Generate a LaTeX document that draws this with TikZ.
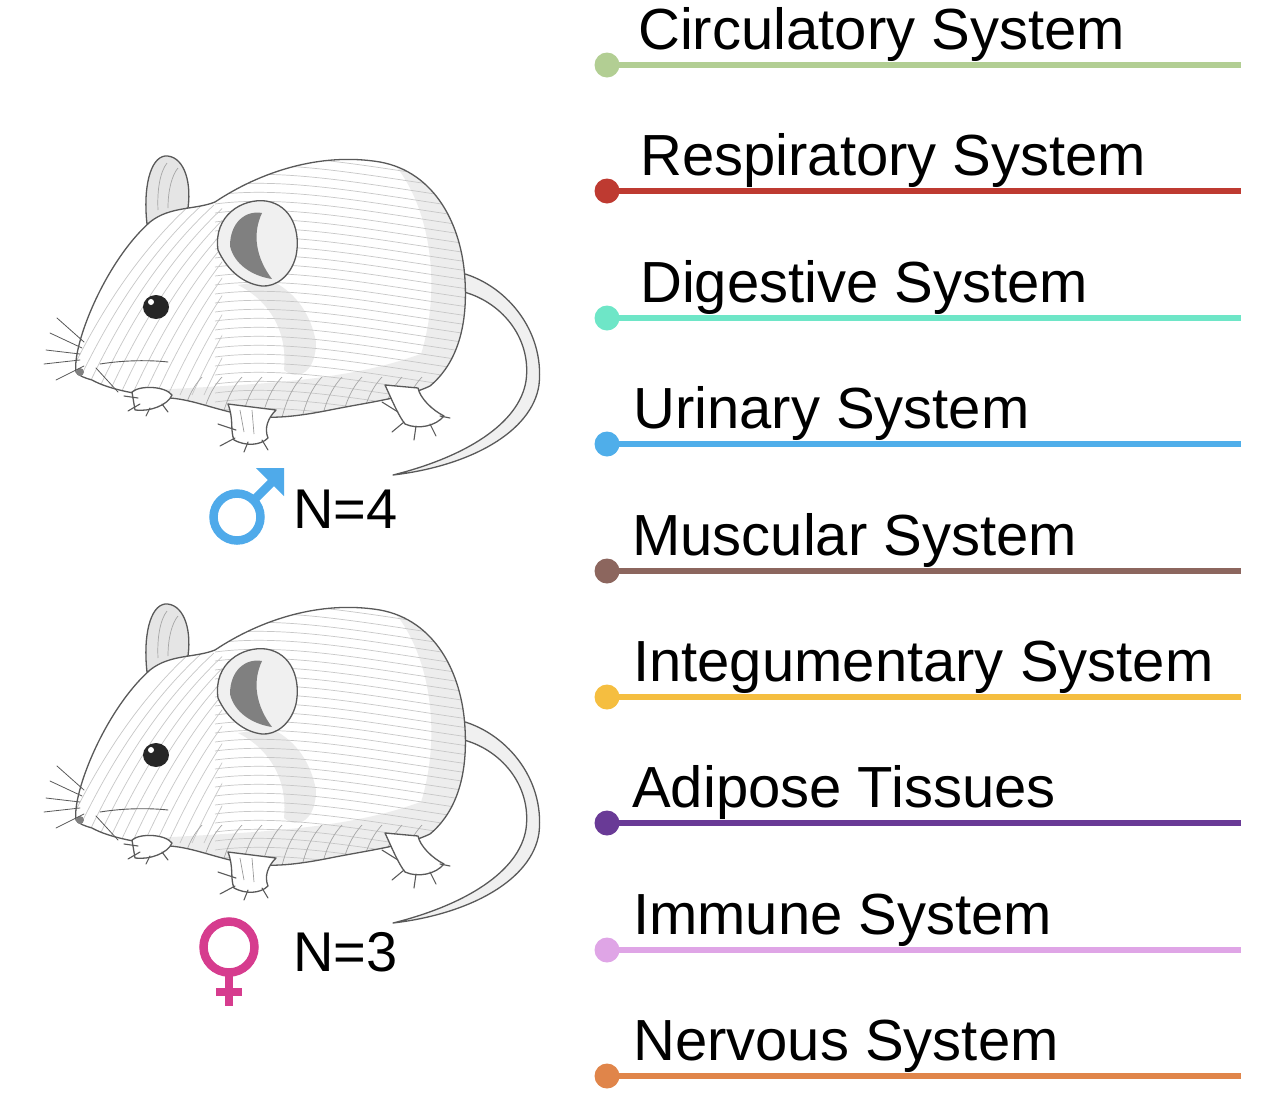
\documentclass[tikz,border=0pt]{standalone}
\usepackage{fontspec}
\setmainfont{Liberation Sans}
\definecolor{cA}{HTML}{B2CE93}
\definecolor{cB}{HTML}{BE3A31}
\definecolor{cC}{HTML}{6EE6C7}
\definecolor{cD}{HTML}{4FAEEA}
\definecolor{cE}{HTML}{8C665E}
\definecolor{cF}{HTML}{F5BE40}
\definecolor{cG}{HTML}{693A96}
\definecolor{cH}{HTML}{DFA5E6}
\definecolor{cI}{HTML}{E0854A}
\definecolor{maleblue}{HTML}{4FAAEA}
\definecolor{femalepink}{HTML}{D63C8E}
\newcommand\mousebodypath{(76,372) .. controls (72,345) and (105,262) .. (150,222)
  .. controls (170,206) and (195,210) .. (215,202)
  .. controls (260,172) and (320,152) .. (380,162)
  .. controls (435,172) and (462,225) .. (465,280)
  .. controls (468,330) and (455,365) .. (430,386)
  .. controls (405,398) and (370,402) .. (330,410)
  .. controls (300,416) and (270,420) .. (245,415)
  .. controls (215,410) and (195,400) .. (170,398)
  .. controls (140,395) and (110,390) .. (92,380)
  .. controls (85,378) and (79,376) .. (76,372) -- cycle}
\tikzset{
  pencil/.style={draw=black!65, line width=1.3bp, line cap=round, line join=round},
  hatch/.style={draw=black!22, line width=0.7bp},
  toe/.style={draw=black!65, line width=1.1bp, line cap=round},
  dot/.style={circle, inner sep=0pt, minimum size=25bp},
  label/.style={anchor=base west, inner sep=0pt, font=\fontsize{58bp}{60bp}\selectfont},
  nlabel/.style={anchor=base west, inner sep=0pt, font=\fontsize{56bp}{58bp}\selectfont},
  mouse/.pic={
    % tail
    \fill[black!6, pencil] (458,272) .. controls (505,283) and (545,330) .. (539,385)
      .. controls (532,432) and (470,466) .. (393,475)
      .. controls (465,457) and (519,424) .. (526,381)
      .. controls (532,337) and (500,300) .. (460,291) -- cycle;
    % far ear
    \fill[black!10, pencil] (147,224) .. controls (143,188) and (150,158) .. (165,156)
      .. controls (182,155) and (192,178) .. (188,208) -- cycle;
    \draw[hatch, draw=black!35] (158,210) .. controls (157,190) and (160,172) .. (167,163);
    \draw[hatch, draw=black!35] (168,208) .. controls (168,190) and (172,175) .. (178,168);
    % body
    \fill[white] \mousebodypath;
    \begin{scope}
      \clip \mousebodypath;
      % soft shadows
      \fill[black!7] (60,400) .. controls (200,378) and (360,398) .. (470,330) -- (490,440) -- (60,440) -- cycle;
      \fill[black!7] (395,165) .. controls (440,220) and (445,330) .. (400,400) -- (490,400) -- (490,165) -- cycle;
      \fill[black!8] (238,285) .. controls (268,300) and (288,330) .. (284,370)
        .. controls (298,382) and (316,372) .. (316,342)
        .. controls (310,310) and (292,290) .. (270,280) -- cycle;
      % fur strokes on body
      \foreach \i in {0,...,30}{
        \draw[hatch] (215,{150+\i*9}) .. controls (290,{140+\i*9}) and (380,{160+\i*9}) .. (490,{175+\i*9});
      }
      % fur strokes on head
      \begin{scope}
        \clip (40,180) rectangle (222,420);
        \foreach \i in {0,...,12}{
          \draw[hatch] ({60+\i*12},{395}) .. controls ({90+\i*12},{330}) and ({130+\i*12},{260}) .. ({190+\i*12},{205});
        }
      \end{scope}
      % belly strokes
      \foreach \i in {0,...,12}{
        \draw[hatch, draw=black!35] ({180+\i*20},425) .. controls ({185+\i*20},405) and ({190+\i*20},390) .. ({202+\i*20},377);
      }
    \end{scope}
    \draw[pencil] \mousebodypath;
    % near ear
    \fill[black!6, pencil] (218,250) .. controls (213,215) and (243,198) .. (266,201)
      .. controls (292,205) and (301,232) .. (296,256)
      .. controls (291,276) and (276,287) .. (262,286)
      .. controls (245,284) and (228,272) .. (218,250) -- cycle;
    \fill[black!50] (230,246) .. controls (230,222) and (246,210) .. (262,213)
      .. controls (252,234) and (256,258) .. (272,279)
      .. controls (252,276) and (234,264) .. (230,246) -- cycle;
    % eye
    \fill[black!85] (156,307) ellipse (13 and 12);
    \fill[white] (151,302) circle (3);
    % nose and mouth
    \fill[black!50] (80,372) circle (4);
    \draw[pencil, line width=0.9bp] (100,364) .. controls (125,360) and (150,360) .. (168,362);
    % whiskers
    \draw[toe, line width=0.8bp] (84,342) -- (57,318);
    \draw[toe, line width=0.8bp] (82,348) -- (50,333);
    \draw[toe, line width=0.8bp] (80,354) -- (46,350);
    \draw[toe, line width=0.8bp] (80,360) -- (44,364);
    \draw[toe, line width=0.8bp] (84,366) -- (56,380);
    \draw[toe, line width=0.8bp] (96,368) -- (118,392);
    % far front paw
    \fill[white, pencil] (132,392) .. controls (140,385) and (165,386) .. (172,395)
      .. controls (168,405) and (150,412) .. (135,410) -- cycle;
    \draw[toe] (138,398) -- (124,396);
    \draw[toe] (140,404) -- (128,411);
    \draw[toe] (150,408) -- (146,416);
    \draw[toe] (162,404) -- (168,412);
    % near front leg
    \fill[white, pencil] (228,404) .. controls (234,420) and (230,430) .. (234,440)
      .. controls (245,446) and (260,446) .. (268,438)
      .. controls (264,428) and (268,418) .. (276,410) -- cycle;
    \draw[hatch, draw=black!40] (240,410) -- (244,432);
    \draw[hatch, draw=black!40] (252,410) -- (254,434);
    \draw[toe] (236,430) -- (218,424);
    \draw[toe] (235,438) -- (220,446);
    \draw[toe] (248,442) -- (244,452);
    \draw[toe] (262,440) -- (268,450);
    % hind foot
    \fill[white, pencil] (385,385) .. controls (392,400) and (398,415) .. (405,424)
      .. controls (418,430) and (436,426) .. (444,416)
      .. controls (432,410) and (420,398) .. (418,388) -- cycle;
    \draw[toe] (398,412) -- (382,402);
    \draw[toe] (404,422) -- (392,432);
    \draw[toe] (416,426) -- (414,440);
    \draw[toe] (430,424) -- (436,436);
    \draw[toe] (440,416) -- (450,418);
  }
}
\begin{document}
\begin{tikzpicture}[x=1bp,y=-1bp]
\useasboundingbox (0,0) rectangle (1270,1114);
% mice
\pic at (0,0) {mouse};
\pic at (0,448) {mouse};
% male symbol
\draw[maleblue, line width=8.5bp] (237,517) circle (23.5);
\draw[maleblue, line width=8.5bp] (253,501) -- (276,478);
\fill[maleblue] (256,468) -- (284,468) -- (284,496) -- cycle;
\node[nlabel] (n4) at (293,528) {N=4};
% female symbol
\draw[femalepink, line width=8.5bp] (229,947) circle (25.5);
\draw[femalepink, line width=8.5bp] (229,976) -- (229,1006);
\draw[femalepink, line width=8.5bp] (216,992) -- (242,992);
\node[nlabel] (n3) at (293,971) {N=3};
% legend lines
\foreach \k/\yy/\col/\xt/\txt in {
  1/65/cA/638/{Circulatory System},
  2/191/cB/640/{Respiratory System},
  3/318/cC/640/{Digestive System},
  4/444/cD/633/{Urinary System},
  5/571/cE/632/{Muscular System},
  6/697/cF/633/{Integumentary System},
  7/823/cG/632/{Adipose Tissues},
  8/950/cH/633/{Immune System},
  9/1076/cI/633/{Nervous System}}{
  \node[dot, fill=\col] (d\k) at (607,\yy) {};
  \coordinate (e\k) at (1241,\yy);
  \draw[\col, line width=6bp] (d\k.center) -- (e\k);
  \node[label] (t\k) at (\xt,\yy-16) {\txt};
}
\end{tikzpicture}
\end{document}
